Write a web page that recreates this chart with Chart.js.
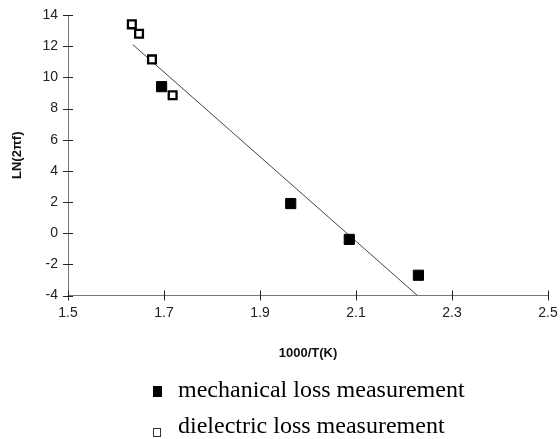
<!DOCTYPE html>
<html>
<head>
<meta charset="utf-8">
<script src="https://cdn.jsdelivr.net/npm/chart.js@4/dist/chart.umd.min.js"></script>
<style>
  html, body { margin: 0; padding: 0; background: #fff; }
  #wrap { position: relative; width: 560px; height: 439px; }
  canvas { position: absolute; left: 0; top: 0; }
  .leg { position: absolute; left: 178px; font-family: "Liberation Serif", "Times New Roman", serif; font-size: 24px; line-height: 24px; color: #000; white-space: nowrap; }
  .mk { position: absolute; box-sizing: border-box; }
</style>
</head>
<body>
<div id="wrap">
  <canvas id="c" width="560" height="439"></canvas>
  <div class="mk" style="left:153px;top:386px;width:9px;height:11px;background:#000;"></div>
  <div class="leg" style="top:377px;">mechanical loss measurement</div>
  <div class="mk" style="left:153px;top:428px;width:8px;height:9px;border:1px solid #333;background:#fff;"></div>
  <div class="leg" style="top:413px;">dielectric loss measurement</div>
</div>
<script>
// Data
const mechX = [1.695, 1.964, 2.086, 2.230];
const mechY = [9.4, 1.9, -0.4, -2.7];
const dielX = [1.633, 1.648, 1.675, 1.718];
const dielY = [13.4, 12.8, 11.15, 8.85];
const fitX = [1.635, 2.228];
const fitY = [12.1, -4.0];
const xTicks = [1.5, 1.7, 1.9, 2.1, 2.3, 2.5];
const yTicks = [-4, -2, 0, 2, 4, 6, 8, 10, 12, 14];

const pts = (xs, ys) => xs.map((x, i) => ({x: x, y: ys[i]}));

const crossTicks = {
  id: 'crossTicks',
  afterDraw(chart) {
    const ctx = chart.ctx;
    const xs = chart.scales.x, ys = chart.scales.y;
    const area = chart.chartArea;
    ctx.save();
    ctx.strokeStyle = '#222';
    ctx.lineWidth = 1;
    ctx.beginPath();
    xTicks.forEach(v => {
      const px = Math.round(xs.getPixelForValue(v)) + 0.5;
      ctx.moveTo(px, area.bottom - 5);
      ctx.lineTo(px, area.bottom + 5);
    });
    yTicks.forEach(v => {
      const py = Math.round(ys.getPixelForValue(v)) + 0.5;
      ctx.moveTo(area.left - 5, py);
      ctx.lineTo(area.left + 5, py);
    });
    ctx.stroke();
    ctx.restore();
  }
};

const tickFont = {family: '"Liberation Sans", Arial, sans-serif', size: 14};
const titleFont = {family: '"Liberation Sans", Arial, sans-serif', size: 13, weight: 'bold'};

new Chart(document.getElementById('c'), {
  type: 'scatter',
  data: {
    datasets: [
      {
        type: 'line',
        label: 'fit',
        data: pts(fitX, fitY),
        borderColor: '#444',
        borderWidth: 1,
        pointRadius: 0,
        fill: false,
        order: 3
      },
      {
        label: 'mechanical loss measurement',
        data: pts(mechX, mechY),
        pointStyle: 'rect',
        pointRadius: 7.2,
        backgroundColor: '#000',
        borderColor: '#000',
        borderWidth: 1,
        order: 1
      },
      {
        label: 'dielectric loss measurement',
        data: pts(dielX, dielY),
        pointStyle: 'rect',
        pointRadius: 5.5,
        backgroundColor: '#fff',
        borderColor: '#000',
        borderWidth: 2.3,
        order: 2
      }
    ]
  },
  options: {
    responsive: false,
    animation: false,
    devicePixelRatio: 1,
    layout: { padding: { left: 0, right: 12, top: 15, bottom: 70 } },
    plugins: { legend: { display: false }, tooltip: { enabled: false } },
    scales: {
      x: {
        type: 'linear',
        min: 1.5, max: 2.5,
        afterBuildTicks: s => { s.ticks = xTicks.map(v => ({value: v})); },
        afterFit: s => { s.height = 73.5; s.paddingLeft = 0; s.paddingRight = 0; },
        ticks: { font: tickFont, color: '#222', padding: 9, callback: v => v.toFixed(1), maxRotation: 0 },
        grid: { display: true, drawOnChartArea: false, drawTicks: false },
        border: { display: true, color: '#777', width: 1 },
        title: { display: true, text: '1000/T(K)', font: titleFont, color: '#111', padding: { top: 0, bottom: 8 } }
      },
      y: {
        type: 'linear',
        min: -4, max: 14,
        afterBuildTicks: s => { s.ticks = yTicks.map(v => ({value: v})); },
        afterFit: s => { s.width = 68; s.paddingTop = 0; s.paddingBottom = 0; },
        ticks: { font: tickFont, color: '#222', padding: 10 },
        grid: { display: true, drawOnChartArea: false, drawTicks: false },
        border: { display: true, color: '#777', width: 1 },
        title: { display: true, text: 'LN(2πf)', font: titleFont, color: '#111', padding: { top: 10, bottom: 0 } }
      }
    }
  },
  plugins: [crossTicks]
});
</script>
</body>
</html>
